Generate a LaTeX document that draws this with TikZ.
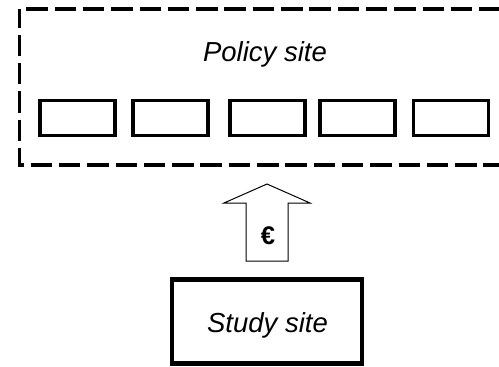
\documentclass[tikz,border=0pt]{standalone}
\usepackage{fontspec}
\setmainfont{Liberation Sans}
\begin{document}
\begin{tikzpicture}[x=1pt,y=-1pt,
  sitelabel/.style={font=\fontsize{27.5}{30}\selectfont\itshape, inner sep=0pt},
  slot/.style={draw, line width=3.6pt, minimum width=75pt, minimum height=35pt, inner sep=0pt},
  sitebox/.style={draw, line width=4.5pt, minimum width=190pt, minimum height=84pt, inner sep=0pt},
  region/.style={line width=3.8pt, dash pattern=on 21.5pt off 6.8pt},
  blockarrow/.style={draw, line width=1pt, line join=miter}]
\useasboundingbox (0,0) rectangle (499,367);

% policy region, open to the right
\draw[region, dash phase=3pt] (19.5,9.3) -- (19.5,165) -- (530,165);
\draw[region, dash phase=21.5pt] (19.5,9.3) -- (530,9.3);
\node[sitelabel, anchor=base] (policy) at (265,61.7) {Policy site};

% row of empty slots
\node[slot] (s1) at (77.2,118) {};
\node[slot] (s2) at (170.5,118) {};
\node[slot] (s3) at (267.2,118) {};
\node[slot] (s4) at (357.5,118) {};
\node[slot] (s5) at (450.8,118) {};

% study site
\node[sitebox] (study) at (267,321.5) {};
\node[sitelabel, anchor=base] (studytxt) at (267.5,332.5) {Study site};

% transfer arrow
\coordinate (tip) at (267,184);
\draw[blockarrow] (tip) -- (310,203) -- (288,203) -- (288,261) -- (246,261)
  -- (246,203) -- (224,203) -- cycle;
\node[font=\fontsize{25.5}{27}\selectfont\bfseries, inner sep=0pt] (euro) at (268,236) {€};
\end{tikzpicture}
\end{document}
